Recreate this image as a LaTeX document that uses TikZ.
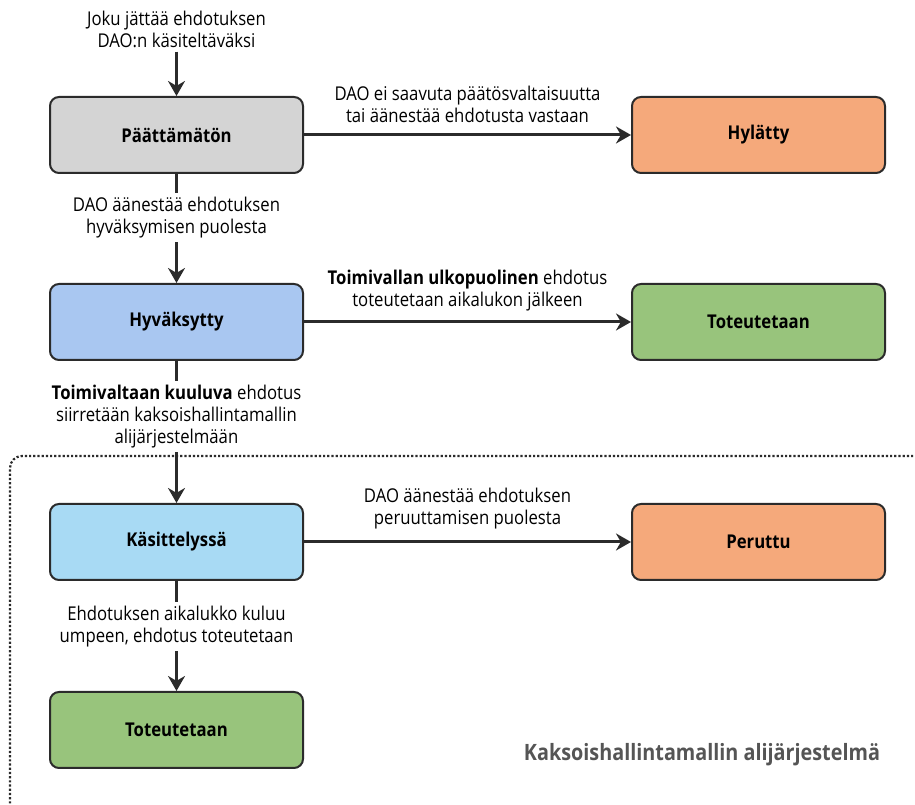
\documentclass[tikz,border=0pt]{standalone}
\usepackage{fontspec}
\setmainfont{Open Sans}[FakeStretch=0.88]
\usepackage{xcolor}
\usepackage{tikz}
\usetikzlibrary{positioning, arrows.meta, calc}

\definecolor{reuna}{HTML}{2B2B2B}
\definecolor{harmaa}{HTML}{D4D4D4}
\definecolor{oranssi}{HTML}{F5A97B}
\definecolor{sininen}{HTML}{A9C7F1}
\definecolor{vaaleansininen}{HTML}{A8DAF4}
\definecolor{vihrea}{HTML}{98C47C}
\definecolor{harmaateksti}{HTML}{555555}

\begin{document}
\begin{tikzpicture}[x=1pt, y=1pt]
		\tikzstyle{tila}=[draw=reuna, line width=2pt, rounded corners=9pt, minimum width=253pt, minimum height=76pt, font=\fontsize{19}{22}\selectfont\bfseries, text=black]
		\tikzstyle{nuoli}=[draw=reuna, line width=3pt, -{Stealth[length=15pt, width=17pt]}]
		\tikzstyle{selite}=[align=center, font=\fontsize{19}{22}\selectfont, text=black, inner sep=4pt]
		
		\useasboundingbox (0,0) rectangle (915,805);
		
		% alijarjestelman reunus
		\draw[draw=reuna, line width=2.2pt, dash pattern=on 2.2pt off 2pt, rounded corners=12pt] (930,349) -- (10,349) -- (10,-12);
		
		\node (pend) at (176.5,670) [tila, fill=harmaa] {Päättämätön};
		\node (hyl) [tila, fill=oranssi, right=327pt of pend] {Hylätty};
		
		\node (hyv) [tila, fill=sininen, below=109pt of pend] {Hyväksytty};
		\node (tot1) [tila, fill=vihrea, right=327pt of hyv] {Toteutetaan};
		
		\node (kas) [tila, fill=vaaleansininen, below=142pt of hyv] {Käsittelyssä};
		\node (per) [tila, fill=oranssi, right=327pt of kas] {Peruttu};
		
		\node (tot2) [tila, fill=vihrea, below=110pt of kas] {Toteutetaan};
		
		\node (alku) at (176.5,776) [selite] {Joku jättää ehdotuksen\\DAO:n käsiteltäväksi};
		\node (otsikko) at (702,50) [font=\fontsize{22.5}{26}\selectfont\bfseries, text=harmaateksti] {Kaksoishallintamallin alijärjestelmä};
		
		\draw[nuoli] (alku) -- (pend);
		\draw[nuoli] (pend) -- node[selite, above=7pt] {DAO ei saavuta päätösvaltaisuutta\\tai äänestää ehdotusta vastaan} (hyl);
		\draw[nuoli] (pend) -- node[selite, fill=white, pos=0.4] {DAO äänestää ehdotuksen\\hyväksymisen puolesta} (hyv);
		\draw[nuoli] (hyv) -- node[selite, above=5pt] {\textbf{Toimivallan ulkopuolinen} ehdotus\\toteutetaan aikalukon jälkeen} (tot1);
		\draw[nuoli] (hyv) -- node[selite, fill=white, pos=0.39] {\textbf{Toimivaltaan kuuluva} ehdotus\\siirretään kaksoishallintamallin\\alijärjestelmään} (kas);
		\draw[nuoli] (kas) -- node[selite, above=7pt] {DAO äänestää ehdotuksen\\peruuttamisen puolesta} (per);
		\draw[nuoli] (kas) -- node[selite, fill=white, pos=0.41] {Ehdotuksen aikalukko kuluu\\umpeen, ehdotus toteutetaan} (tot2);
		
\end{tikzpicture}
\end{document}
